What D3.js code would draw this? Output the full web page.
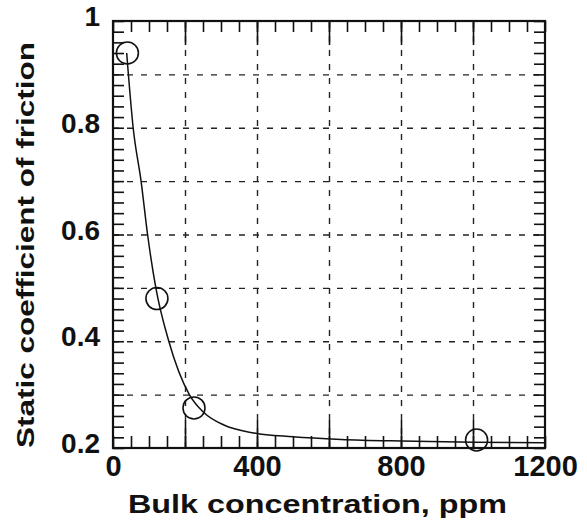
<!DOCTYPE html>
<html>
<head>
<meta charset="utf-8">
<script src="https://cdn.jsdelivr.net/npm/d3@7"></script>
<style>
  body { margin: 0; background: #fff; }
  text { font-family: "Liberation Sans", Arial, sans-serif; font-weight: bold; fill: #111; }
</style>
</head>
<body>
<div id="chart"></div>
<script>
// measured points (circles)
var pointX = [40, 122, 225, 1010];
var pointY = [0.94, 0.48, 0.275, 0.215];

// fitted curve
var curveX = [38, 56, 78, 96, 119, 155, 212, 253, 308, 392, 500, 633, 800, 1000, 1200];
var curveY = [0.94, 0.80, 0.70, 0.60, 0.50, 0.40, 0.30, 0.266, 0.243, 0.228, 0.221, 0.216, 0.213, 0.211, 0.21];

var xLabelTicks = [0, 400, 800, 1200];
var yLabelTicks = [0.2, 0.4, 0.6, 0.8, 1];

var margin = { left: 113, top: 21 };
var width = 432, height = 427;

var svg = d3.select("#chart").append("svg")
  .attr("width", 587)
  .attr("height", 530);

var g = svg.append("g").attr("transform", "translate(" + margin.left + "," + margin.top + ")");

var x = d3.scaleLinear().domain([0, 1200]).range([0, width]);
var y = d3.scaleLinear().domain([0.2, 1]).range([height, 0]);

// dashed grid
g.append("g")
  .attr("class", "grid")
  .attr("transform", "translate(0," + height + ")")
  .call(d3.axisBottom(x).tickValues(d3.range(200, 1001, 200)).tickSize(-height).tickFormat(""));
g.append("g")
  .attr("class", "grid")
  .call(d3.axisLeft(y).tickValues(d3.range(3, 10).map(function (d) { return d / 10; })).tickSize(-width).tickFormat(""));
g.selectAll(".grid .domain").remove();
g.selectAll(".grid line")
  .style("stroke", "#222")
  .style("stroke-width", 1.4)
  .style("stroke-dasharray", "6,8");

// inward ticks on all four sides
var minorX = d3.range(0, 1201, 50);
var majorX = d3.range(200, 1001, 200);
var minorY = d3.range(10, 51).map(function (d) { return d / 50; });

g.append("g").attr("class", "tk").attr("transform", "translate(0," + height + ")")
  .call(d3.axisBottom(x).tickValues(minorX).tickSize(-12).tickFormat(""));
g.append("g").attr("class", "tk").attr("transform", "translate(0," + height + ")")
  .call(d3.axisBottom(x).tickValues(majorX).tickSize(-28).tickFormat(""));
g.append("g").attr("class", "tk")
  .call(d3.axisTop(x).tickValues(minorX).tickSize(-11).tickFormat(""));
g.append("g").attr("class", "tk")
  .call(d3.axisTop(x).tickValues(majorX).tickSize(-24).tickFormat(""));
g.append("g").attr("class", "tk")
  .call(d3.axisLeft(y).tickValues(minorY).tickSize(-11).tickFormat(""));
g.append("g").attr("class", "tk").attr("transform", "translate(" + width + ",0)")
  .call(d3.axisRight(y).tickValues(minorY).tickSize(-11).tickFormat(""));
g.selectAll(".tk .domain").remove();
g.selectAll(".tk line").style("stroke", "#111").style("stroke-width", 1.6);

// frame
g.append("rect")
  .attr("width", width)
  .attr("height", height)
  .style("fill", "none")
  .style("stroke", "#111")
  .style("stroke-width", 2.2);

// tick labels
var xl = g.append("g").attr("transform", "translate(0," + height + ")")
  .call(d3.axisBottom(x).tickValues(xLabelTicks).tickSize(0).tickFormat(d3.format("d")));
xl.select(".domain").remove();
xl.selectAll("text")
  .attr("y", 28)
  .attr("dy", 0)
  .style("font-size", "29px")
  .style("font-family", "'Liberation Sans', Arial, sans-serif")
  .style("font-weight", "bold")
  .style("fill", "#111");

var yl = g.append("g")
  .call(d3.axisLeft(y).tickValues(yLabelTicks).tickSize(0)
    .tickFormat(function (d) { return d === 1 ? "1" : d3.format(".1f")(d); }));
yl.select(".domain").remove();
yl.selectAll("text")
  .attr("x", -13)
  .attr("dy", "0.34em")
  .attr("y", -5)
  .style("font-size", "28px")
  .style("font-family", "'Liberation Sans', Arial, sans-serif")
  .style("font-weight", "bold")
  .style("fill", "#111");

// curve
var line = d3.line()
  .x(function (d, i) { return x(curveX[i]); })
  .y(function (d, i) { return y(curveY[i]); })
  .curve(d3.curveMonotoneX);

g.append("path")
  .attr("d", line(curveX))
  .style("fill", "none")
  .style("stroke", "#111")
  .style("stroke-width", 1.5);

// data circles
g.selectAll("circle.pt")
  .data(pointX)
  .enter()
  .append("circle")
  .attr("class", "pt")
  .attr("cx", function (d) { return x(d); })
  .attr("cy", function (d, i) { return y(pointY[i]); })
  .attr("r", 11)
  .style("fill", "none")
  .style("stroke", "#111")
  .style("stroke-width", 1.6);

// axis titles
svg.append("text")
  .attr("x", 128)
  .attr("y", 513)
  .attr("textLength", 379)
  .attr("lengthAdjust", "spacingAndGlyphs")
  .style("font-size", "26px")
  .text("Bulk concentration, ppm");

svg.append("text")
  .attr("transform", "translate(34,448) rotate(-90)")
  .attr("textLength", 406)
  .attr("lengthAdjust", "spacingAndGlyphs")
  .style("font-size", "24px")
  .text("Static coefficient of friction");
</script>
</body>
</html>
